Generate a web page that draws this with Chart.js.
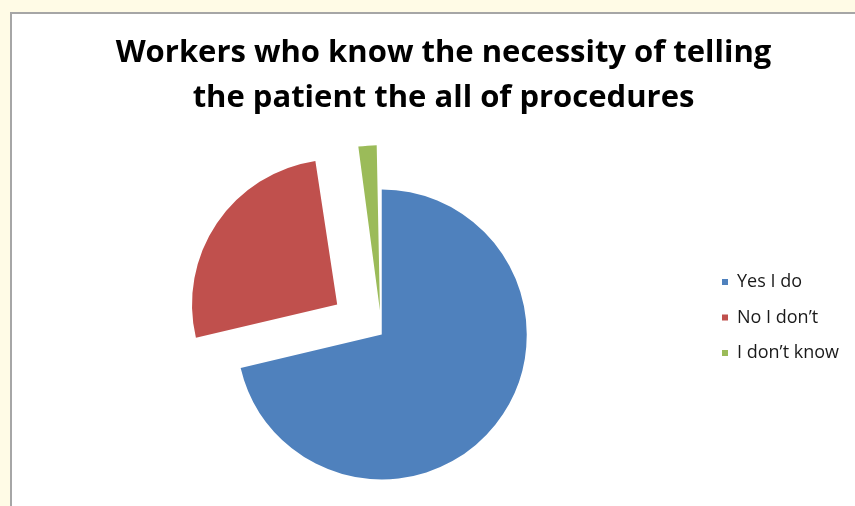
<!DOCTYPE html>
<html lang="en">
<head>
  <meta charset="UTF-8">
  <title>Workers who know the necessity of telling the patient</title>
  <style>
    body {
      margin: 0;
      padding: 0;
      background-color: #fffbe6;
      width: 855px;
      height: 506px;
      overflow: hidden;
      position: relative;
      font-family: 'Open Sans', sans-serif;
    }

    .frame {
      position: absolute;
      left: 10px;
      top: 12px;
      width: 843px;
      height: 492px;
      background-color: #ffffff;
      border-top: 2px solid #a6a6a6;
      border-left: 2px solid #a6a6a6;
    }

    h2 {
      position: absolute;
      left: 32px;
      top: 28px;
      width: 823px;
      margin: 0;
      font-size: 31px;
      font-weight: bold;
      line-height: 45px;
      text-align: center;
      color: #000000;
    }

    canvas {
      position: absolute;
      left: 0;
      top: 0;
    }
  </style>
  <script src="https://cdn.jsdelivr.net/npm/chart.js"></script>
</head>
<body>

  <div class="frame">
    <canvas id="workersChart"></canvas>
  </div>
  <h2>Workers who know the necessity of telling<br>the patient the all of procedures</h2>

  <script>
    // answers and share of workers (percent)
    const answers = ['Yes I do', 'No I don\u2019t', 'I don\u2019t know'];
    const shares = [71.3, 26.3, 2.4];
    const sliceColors = ['#4f81bd', '#c0504d', '#9bbb59'];
    // how far each slice is pulled out of the pie
    const explode = [0, 215, 96];

    const ctx = document.getElementById('workersChart').getContext('2d');
    const chart = new Chart(ctx, {
      type: 'pie',
      data: {
        labels: answers,
        datasets: [{
          data: shares,
          backgroundColor: sliceColors,
          borderWidth: 0,
          offset: explode,
          hoverOffset: 0
        }]
      },
      options: {
        responsive: true,
        maintainAspectRatio: false,
        animation: false,
        radius: 145,
        layout: {
          // room for the heading above the pie
          padding: { left: 47, right: 6, top: 200, bottom: 51 }
        },
        plugins: {
          legend: {
            position: 'right',
            align: 'start',
            fullSize: false,
            // empty legend title, only used to push the entries down
            title: {
              display: true,
              text: '',
              font: { size: 12, lineHeight: 1 },
              padding: { top: 29.5, bottom: 0 }
            },
            labels: {
              boxWidth: 6,
              boxHeight: 6,
              padding: 17.5,
              color: '#1a1a1a',
              font: { family: 'Open Sans', size: 18 }
            }
          },
          tooltip: { enabled: false }
        }
      }
    });
  </script>

</body>
</html>
